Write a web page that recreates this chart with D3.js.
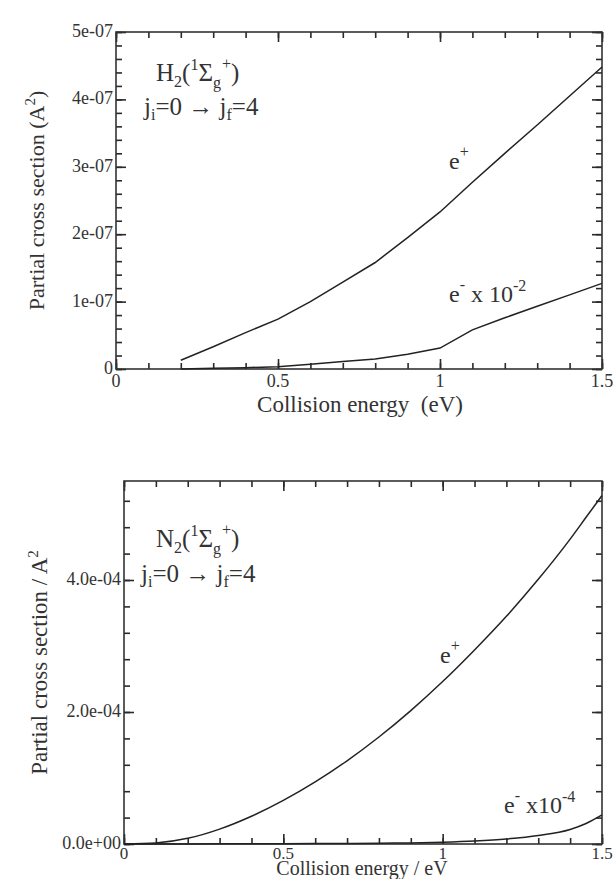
<!DOCTYPE html>
<html>
<head>
<meta charset="utf-8">
<script src="https://cdn.jsdelivr.net/npm/d3@7"></script>
<style>
  body { margin: 0; background: #fff; }
</style>
</head>
<body>
<svg id="chart" width="613" height="879"></svg>
<script>
// ---- data ----
// H2 panel
const h2Energy = [0.2, 0.3, 0.4, 0.5, 0.6, 0.7, 0.8, 0.9, 1.0, 1.1, 1.2, 1.3, 1.4, 1.5];
const h2Positron = [1.3e-8, 3.3e-8, 5.4e-8, 7.4e-8, 1.0e-7, 1.29e-7, 1.58e-7, 1.95e-7, 2.33e-7, 2.77e-7, 3.2e-7, 3.62e-7, 4.05e-7, 4.48e-7];
const h2Electron = [0, 1e-9, 2e-9, 3.5e-9, 7e-9, 1.1e-8, 1.5e-8, 2.2e-8, 3.1e-8, 5.8e-8, 7.6e-8, 9.3e-8, 1.1e-7, 1.27e-7];
const h2YTicks = [0, 1e-7, 2e-7, 3e-7, 4e-7, 5e-7];

// N2 panel
const n2Energy = [0, 0.1, 0.2, 0.3, 0.4, 0.5, 0.6, 0.7, 0.8, 0.9, 1.0, 1.1, 1.2, 1.3, 1.4, 1.45, 1.5];
const n2Positron = [0, 1.6e-6, 8.6e-6, 2.26e-5, 4.21e-5, 6.61e-5, 9.41e-5, 1.261e-4, 1.621e-4, 2.021e-4, 2.461e-4, 2.94e-4, 3.45e-4, 4.01e-4, 4.62e-4, 4.95e-4, 5.28e-4];
const n2Electron = [0, 0, 0.1e-6, 0.2e-6, 0.3e-6, 0.4e-6, 0.6e-6, 0.8e-6, 1.1e-6, 1.7e-6, 2.8e-6, 4.6e-6, 7.6e-6, 1.28e-5, 2.2e-5, 3.1e-5, 4.4e-5];
const n2YTicks = [0, 2e-4, 4e-4];

const xTicks = [0, 0.5, 1, 1.5];

const svg = d3.select("#chart")
  .attr("font-family", "'Liberation Serif', 'Times New Roman', 'DejaVu Serif', serif");
const ink = "#333";

// exponent with two digits, like 5e-07
function expLabel(v, digits) {
  let s = v.toExponential(digits);
  return s.replace(/e([+-])(\d)$/, "e$10$2");
}

// inward ticks along one side of the frame, drawn with a d3 axis
function sideTicks(g, values, scale, side, opt, len) {
  const maker = { bottom: d3.axisTop, top: d3.axisBottom, left: d3.axisRight, right: d3.axisLeft }[side];
  const vert = side === "left" || side === "right";
  const ax = g.append("g")
    .attr("transform", vert ? `translate(${opt[side]},0)` : `translate(0,${opt[side]})`)
    .call(maker(scale).tickValues(values).tickSize(len).tickFormat(() => ""));
  ax.select(".domain").remove();
  ax.selectAll(".tick text").remove();
  ax.selectAll(".tick line").attr("stroke", "#2a2a2a").attr("stroke-width", 1.6);
}

function drawPanel(opt) {
  const x = d3.scaleLinear().domain([0, 1.5]).range([opt.left, opt.right]);
  const y = d3.scaleLinear().domain([0, opt.yMax]).range([opt.bottom, opt.top]);
  const g = svg.append("g");

  const xMinor = d3.range(0, 1.5001, 0.1);
  const yMinor = d3.range(0, opt.yMax * 1.0001, opt.yMinorStep);

  ["bottom", "top"].forEach((s) => {
    sideTicks(g, xMinor, x, s, opt, 6);
    sideTicks(g, xTicks, x, s, opt, 10);
  });
  ["left", "right"].forEach((s) => {
    sideTicks(g, yMinor, y, s, opt, 6);
    sideTicks(g, opt.yTicks, y, s, opt, 10);
  });

  // frame
  g.append("rect")
    .attr("x", opt.left).attr("y", opt.top)
    .attr("width", opt.right - opt.left).attr("height", opt.bottom - opt.top)
    .attr("fill", "none").attr("stroke", ink).attr("stroke-width", 1.6);

  // tick labels
  g.selectAll(null).data(xTicks).enter().append("text")
    .attr("x", (d) => x(d)).attr("y", opt.bottom + opt.xLabelDy)
    .attr("text-anchor", "middle").style("font-size", opt.xLabelSize).attr("fill", ink)
    .text((d) => d);
  g.selectAll(null).data(opt.yTicks).enter().append("text")
    .attr("x", opt.left - 3).attr("y", (d) => y(d) + 5)
    .attr("text-anchor", "end").style("font-size", "18px").attr("fill", ink)
    .text(opt.yFormat);

  // curves
  const line = d3.line().x((d) => x(d[0])).y((d) => y(d[1])).curve(opt.curve);
  [opt.s1, opt.s2].forEach((s) => {
    g.append("path")
      .datum(opt.xs.map((v, i) => [v, s[i]]))
      .attr("d", line)
      .attr("fill", "none").attr("stroke", "#222").attr("stroke-width", 1.5);
  });

  // axis titles
  g.append("text")
    .attr("x", opt.xTitleX).attr("y", opt.bottom + opt.xTitleDy)
    .attr("text-anchor", "middle").style("font-size", opt.xTitleSize).attr("fill", ink)
    .style("white-space", "pre")
    .text(opt.xTitle);

  const yt = g.append("text")
    .attr("transform", `translate(${opt.yTitleX},${(opt.top + opt.bottom) / 2}) rotate(-90)`)
    .attr("text-anchor", "middle").style("font-size", opt.yTitleSize).attr("fill", ink);
  yt.append("tspan").text(opt.yTitle[0]);
  yt.append("tspan").attr("dy", -9).style("font-size", "15px").text("2");
  yt.append("tspan").attr("dy", 9).text(opt.yTitle[1]);

  return { x, y, g };
}

function molecule(g, px, py, sym) {
  const t = g.append("text").attr("x", px).attr("y", py)
    .style("font-size", "25px").attr("fill", ink);
  t.append("tspan").text(sym);
  t.append("tspan").attr("dy", 6).style("font-size", "16px").text("2");
  t.append("tspan").attr("dy", -6).text("(");
  t.append("tspan").attr("dy", -11).style("font-size", "16px").text("1");
  t.append("tspan").attr("dy", 11).text("Σ");
  t.append("tspan").attr("dy", 7).style("font-size", "16px").text("g");
  t.append("tspan").attr("dy", -19).attr("dx", 1).style("font-size", "16px").text("+");
  t.append("tspan").attr("dy", 12).text(")");
}

function transition(g, px, py) {
  const t = g.append("text").attr("x", px).attr("y", py)
    .style("font-size", "25px").attr("fill", ink);
  t.append("tspan").text("j");
  t.append("tspan").attr("dy", 5).style("font-size", "16px").text("i");
  t.append("tspan").attr("dy", -5).text("=0 \u2192 j");
  t.append("tspan").attr("dy", 5).style("font-size", "16px").text("f");
  t.append("tspan").attr("dy", -5).text("=4");
}

function species(g, px, py, sign, factor) {
  const t = g.append("text").attr("x", px).attr("y", py)
    .style("font-size", "24px").attr("fill", ink);
  t.append("tspan").text("e");
  t.append("tspan").attr("dy", -12).style("font-size", "16px").text(sign);
  if (factor) {
    t.append("tspan").attr("dy", 12).text(factor[0]);
    t.append("tspan").attr("dy", -11).style("font-size", "16px").text(factor[1]);
  }
}

// ---- upper panel: H2 ----
const h2Panel = drawPanel({
  left: 116, right: 602, top: 32, bottom: 369,
  yMax: 5e-7, yMinorStep: 2e-8, yTicks: h2YTicks,
  yFormat: (d) => (d === 0 ? "0" : expLabel(d, 0)),
  xs: h2Energy, s1: h2Positron, s2: h2Electron, curve: d3.curveLinear,
  xLabelDy: 18, xLabelSize: "18px", xTitleDy: 43, xTitleX: 360, xTitleSize: "23px",
  xTitle: "Collision energy  (eV)",
  yTitle: ["Partial cross section (A", ")"], yTitleX: 44, yTitleSize: "22px"
});
molecule(h2Panel.g, 156, 81, "H");
transition(h2Panel.g, 144, 115);
species(h2Panel.g, 449, 169, "+");
species(h2Panel.g, 449, 302, "-", [" x 10", "-2"]);

// ---- lower panel: N2 ----
const n2Panel = drawPanel({
  left: 124, right: 602, top: 481, bottom: 844,
  yMax: 5.5e-4, yMinorStep: 4e-5, yTicks: n2YTicks,
  yFormat: (d) => expLabel(d, 1),
  xs: n2Energy, s1: n2Positron, s2: n2Electron, curve: d3.curveMonotoneX,
  xLabelDy: 15, xLabelSize: "17px", xTitleDy: 31, xTitleX: 362, xTitleSize: "20px",
  xTitle: "Collision energy / eV",
  yTitle: ["Partial cross section / A", ""], yTitleX: 47, yTitleSize: "23px"
});
molecule(n2Panel.g, 156, 547, "N");
transition(n2Panel.g, 141, 582);
species(n2Panel.g, 440, 663, "+");
species(n2Panel.g, 504, 813, "-", [" x10", "-4"]);
</script>
</body>
</html>
